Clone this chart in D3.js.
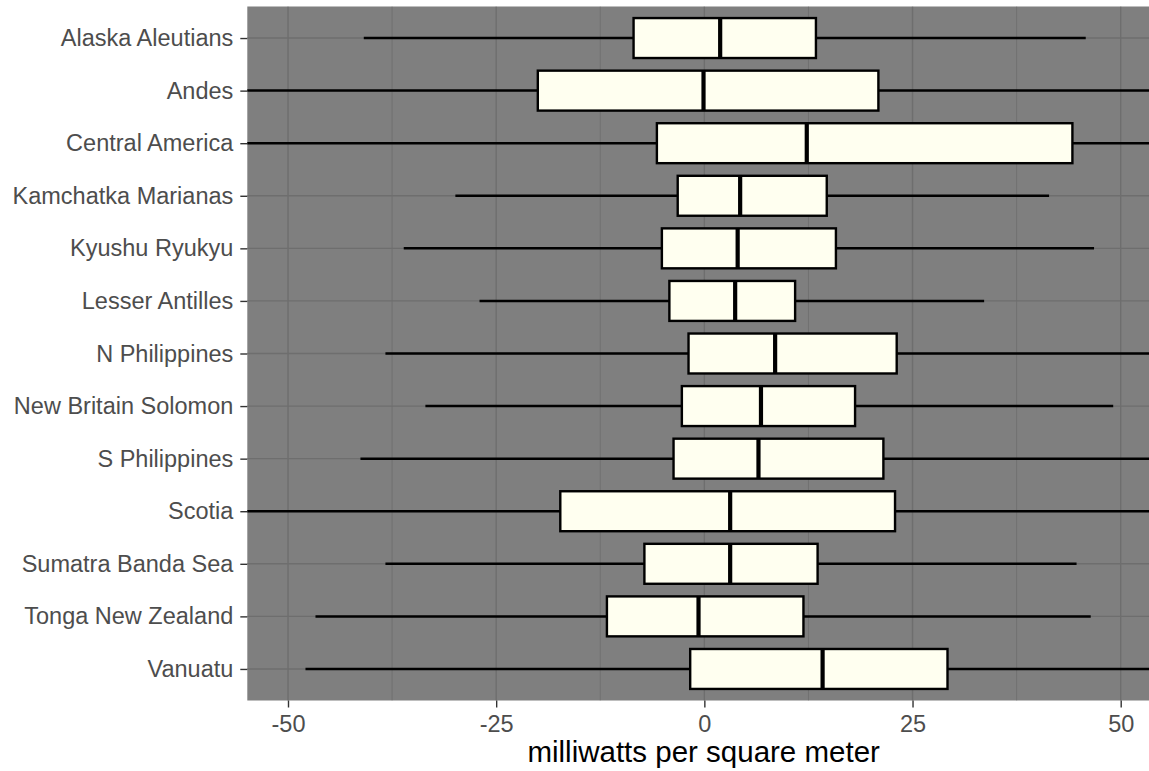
<!DOCTYPE html>
<html>
<head>
<meta charset="utf-8">
<script src="https://cdn.jsdelivr.net/npm/d3@7"></script>
<style>
  html, body { margin: 0; padding: 0; background: #ffffff; }
  svg { display: block; }
</style>
</head>
<body>
<svg id="chart" width="1149" height="771"></svg>
<script>
// ---- data ----
const categories = [
  "Alaska Aleutians", "Andes", "Central America", "Kamchatka Marianas",
  "Kyushu Ryukyu", "Lesser Antilles", "N Philippines", "New Britain Solomon",
  "S Philippines", "Scotia", "Sumatra Banda Sea", "Tonga New Zealand", "Vanuatu"
];
const whiskerLow  = [-40.9, -60, -62, -29.9, -36.1, -27.0, -38.3, -33.5, -41.3, -58, -38.3, -46.7, -47.9];
const q1          = [-8.5, -20.0, -5.7, -3.2, -5.1, -4.2, -1.9, -2.7, -3.7, -17.3, -7.2, -11.7, -1.7];
const median      = [1.9, -0.1, 12.3, 4.3, 4.0, 3.7, 8.5, 6.8, 6.5, 3.1, 3.1, -0.7, 14.2];
const q3          = [13.4, 20.9, 44.2, 14.7, 15.8, 10.9, 23.1, 18.1, 21.5, 22.9, 13.6, 11.9, 29.2];
const whiskerHigh = [45.8, 62, 80, 41.4, 46.8, 33.6, 58, 49.1, 57, 60, 44.7, 46.4, 60];
const xTicks = [-50, -25, 0, 25, 50];
const xTickLabels = ["-50", "-25", "0", "25", "50"];
const xMinor = [-37.5, -12.5, 12.5, 37.5];
const xTitle = "milliwatts per square meter";

const rows = categories.map((c, i) => ({
  cat: c, lo: whiskerLow[i], q1: q1[i], med: median[i], q3: q3[i], hi: whiskerHigh[i]
}));

// ---- layout ----
const panel = { left: 247.3, right: 1160, top: 6.5, bottom: 700.5 };
const svg = d3.select("#chart");

const x = d3.scaleLinear().domain([-50, 50]).range([288, 1120.7]);
const y = d3.scalePoint().domain(categories).range([panel.top, panel.bottom]).padding(0.6);
const step = y.step();
const boxH = step * 0.76;
const font = "'Liberation Sans', Arial, Helvetica, sans-serif";

svg.append("defs").append("clipPath").attr("id", "panelClip")
  .append("rect")
  .attr("x", panel.left).attr("y", panel.top)
  .attr("width", panel.right - panel.left).attr("height", panel.bottom - panel.top);

svg.append("rect")
  .attr("x", panel.left).attr("y", panel.top)
  .attr("width", panel.right - panel.left).attr("height", panel.bottom - panel.top)
  .attr("fill", "#7f7f7f");

const grid = svg.append("g").attr("clip-path", "url(#panelClip)");
grid.selectAll("line.minor").data(xMinor).join("line")
  .attr("class", "minor")
  .attr("x1", d => x(d)).attr("x2", d => x(d))
  .attr("y1", panel.top).attr("y2", panel.bottom)
  .attr("stroke", "#717171").attr("stroke-width", 1);
grid.selectAll("line.major").data(xTicks).join("line")
  .attr("class", "major")
  .attr("x1", d => x(d)).attr("x2", d => x(d))
  .attr("y1", panel.top).attr("y2", panel.bottom)
  .attr("stroke", "#6e6e6e").attr("stroke-width", 1.4);
grid.selectAll("line.hgrid").data(categories).join("line")
  .attr("class", "hgrid")
  .attr("x1", panel.left).attr("x2", panel.right)
  .attr("y1", d => y(d)).attr("y2", d => y(d))
  .attr("stroke", "#6e6e6e").attr("stroke-width", 1.4);

const marks = svg.append("g").attr("clip-path", "url(#panelClip)");
const g = marks.selectAll("g.box").data(rows).join("g").attr("class", "box");

g.append("line")
  .attr("x1", d => x(d.lo)).attr("x2", d => x(d.q1))
  .attr("y1", d => y(d.cat)).attr("y2", d => y(d.cat))
  .attr("stroke", "#000").attr("stroke-width", 2.5);
g.append("line")
  .attr("x1", d => x(d.q3)).attr("x2", d => x(d.hi))
  .attr("y1", d => y(d.cat)).attr("y2", d => y(d.cat))
  .attr("stroke", "#000").attr("stroke-width", 2.5);
g.append("rect")
  .attr("x", d => x(d.q1)).attr("width", d => x(d.q3) - x(d.q1))
  .attr("y", d => y(d.cat) - boxH / 2).attr("height", boxH)
  .attr("fill", "#fffff0").attr("stroke", "#000").attr("stroke-width", 2.4);
g.append("line")
  .attr("x1", d => x(d.med)).attr("x2", d => x(d.med))
  .attr("y1", d => y(d.cat) - boxH / 2).attr("y2", d => y(d.cat) + boxH / 2)
  .attr("stroke", "#000").attr("stroke-width", 4.2);

const xAxis = svg.append("g")
  .attr("transform", `translate(0,${panel.bottom})`)
  .call(d3.axisBottom(x).tickValues(xTicks).tickSize(7).tickPadding(8)
    .tickFormat((d, i) => xTickLabels[i]));
xAxis.select(".domain").remove();
xAxis.selectAll(".tick line").attr("stroke", "#333333").attr("stroke-width", 1.4);
xAxis.selectAll(".tick text")
  .attr("fill", "#4d4d4d")
  .style("font-family", font)
  .style("font-size", "23.5px");

const yAxis = svg.append("g")
  .attr("transform", `translate(${panel.left},0)`)
  .call(d3.axisLeft(y).tickSize(7).tickPadding(7));
yAxis.select(".domain").remove();
yAxis.selectAll(".tick line").attr("stroke", "#333333").attr("stroke-width", 1.4);
yAxis.selectAll(".tick text")
  .attr("fill", "#4d4d4d")
  .style("font-family", font)
  .style("font-size", "23.5px");

svg.append("text")
  .attr("x", (panel.left + 1160) / 2)
  .attr("y", 762)
  .attr("text-anchor", "middle")
  .attr("fill", "#000")
  .style("font-family", font)
  .style("font-size", "29.5px")
  .text(xTitle);
</script>
</body>
</html>
